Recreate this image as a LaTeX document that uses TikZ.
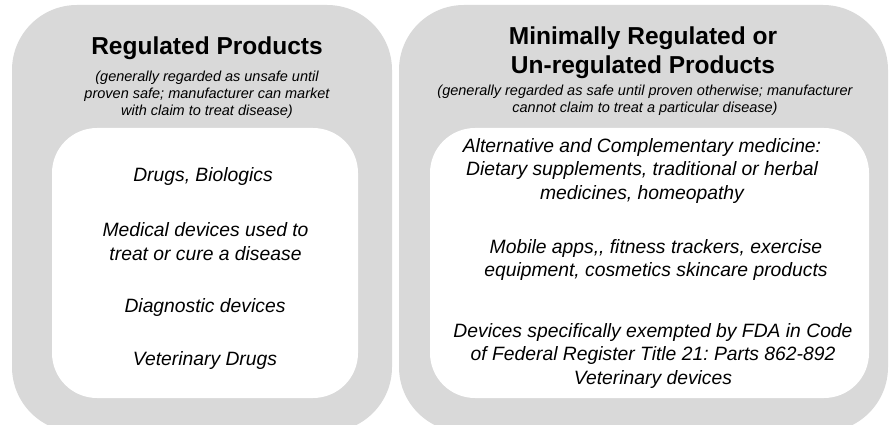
\documentclass[tikz,border=0pt]{standalone}
\usepackage{fontspec}
\setmainfont{Liberation Sans}
\frenchspacing
\begin{document}
\begin{tikzpicture}[x=1pt,y=-1pt,
  panel/.style={fill=panelgray, rounded corners=65pt, inner sep=0pt},
  inset/.style={fill=white, rounded corners=45pt, inner sep=0pt},
  headline/.style={font=\fontsize{24.5}{29}\selectfont\bfseries, align=center, inner sep=0pt},
  remark/.style={font=\fontsize{14.5}{17}\selectfont\itshape, align=center, inner sep=0pt},
  entry/.style={font=\fontsize{19.3}{23.5}\selectfont\itshape, align=center, inner sep=0pt}]
\definecolor{panelgray}{HTML}{D9D9D9}
\useasboundingbox (0,0) rectangle (889,425);
\clip (0,0) rectangle (889,425);
\fill[white] (0,0) rectangle (889,425);

% outer panels
\node[panel, minimum width=380pt, minimum height=427pt] (reg) at (202,218.5) {};
\node[panel, minimum width=489pt, minimum height=427pt] (unreg) at (643.5,218.5) {};

% inner lists
\node[inset, minimum width=306pt, minimum height=270pt] (reglist) at (205,263) {};
\node[inset, minimum width=439pt, minimum height=270pt] (unreglist) at (649.5,263) {};

% regulated side
\node[headline] (regtitle) at (207,48.5) {Regulated Products};
\node[remark] (regnote) at (207,95) {(generally regarded as unsafe until\\proven safe; manufacturer can market\\with claim to treat disease)};
\node[entry] (drugs) at (203,176.7) {Drugs, Biologics};
\node[entry] (meddev) at (205.5,241.5) {Medical devices used to\\treat or cure a disease};
\node[entry] (diag) at (205,308) {Diagnostic devices};
\node[entry] (vetdrugs) at (205,361) {Veterinary Drugs};

% minimally regulated side
\node[headline] (unregtitle) at (643,53) {Minimally Regulated or\\Un-regulated Products};
\node[remark] (unregnote) at (645,100) {(generally regarded as safe until proven otherwise; manufacturer\\cannot claim to treat a particular disease)};
\node[entry] (altmed) at (642,171) {Alternative and Complementary medicine:\\Dietary supplements, traditional or herbal\\medicines, homeopathy};
\node[entry] (apps) at (656,260) {Mobile apps,{}, fitness trackers, exercise\\equipment, cosmetics skincare products};
\node[entry] (exempt) at (653,356) {Devices specifically exempted by FDA in Code\\of Federal Register Title 21: Parts 862-892\\Veterinary devices};
\end{tikzpicture}
\end{document}
